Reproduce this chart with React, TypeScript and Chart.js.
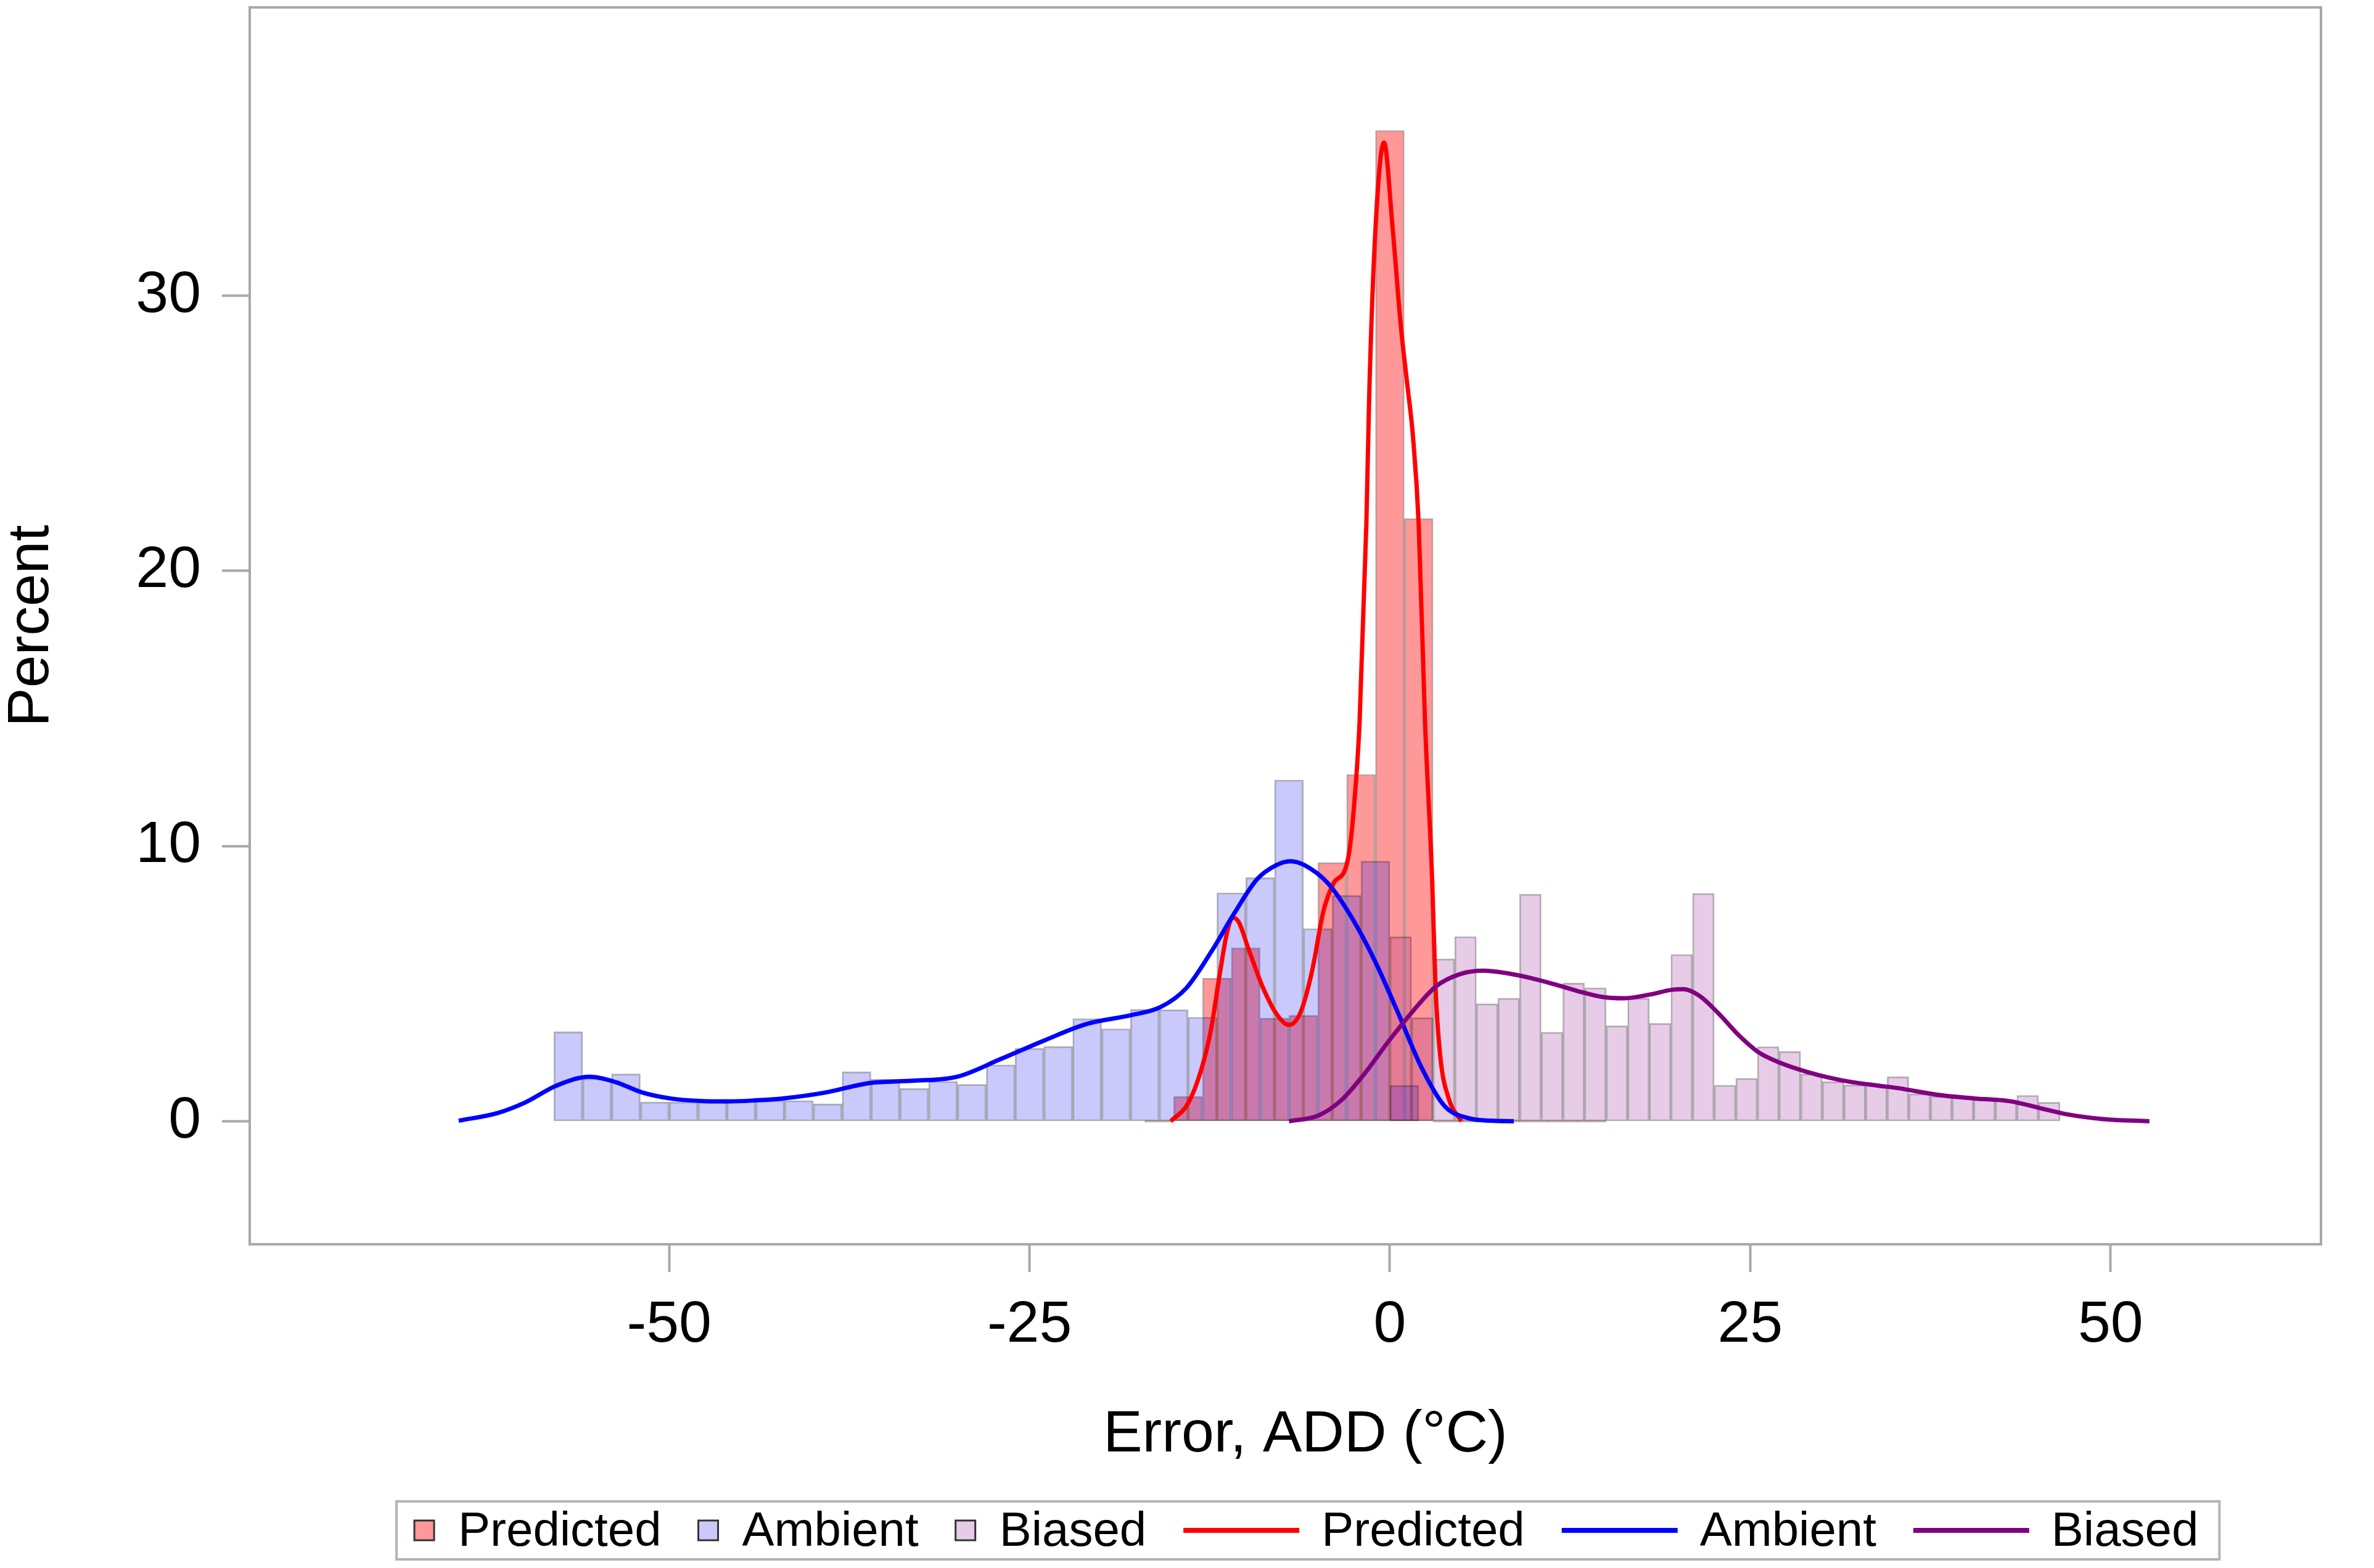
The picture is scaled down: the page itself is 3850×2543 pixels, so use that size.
import React, { useEffect, useRef } from 'react';
import Chart from 'chart.js/auto';

// Histogram bins: midpoints (°C) and percent of observations
const predictedMid = [-16, -14, -12, -10, -8, -6, -4, -2, 0, 2, 4, 6, 8, 10, 12, 14];
const predictedPct = [0, 0.9, 5.2, 6.3, 3.75, 3.85, 9.4, 12.6, 36.0, 21.9, 0, 0, 0, 0, 0, 0];

const ambientMid = [
  -57, -55, -53, -51, -49, -47, -45, -43, -41, -39, -37, -35, -33, -31, -29,
  -27, -25, -23, -21, -19, -17, -15, -13, -11, -9, -7, -5, -3, -1, 1,
];
const ambientPct = [
  3.25, 1.55, 1.72, 0.7, 0.7, 0.72, 0.75, 0.75, 0.75, 0.63, 1.8, 1.53, 1.19, 1.45, 1.34,
  2.05, 2.65, 2.72, 3.73, 3.36, 4.07, 4.05, 3.78, 8.3, 8.85, 12.4, 7.0, 8.2, 9.45, 1.3,
];

const biasedMid = [
  0.75, 2.25, 3.75, 5.25, 6.75, 8.25, 9.75, 11.25, 12.75, 14.25, 15.75, 17.25, 18.75, 20.25,
  21.75, 23.25, 24.75, 26.25, 27.75, 29.25, 30.75, 32.25, 33.75, 35.25, 36.75, 38.25, 39.75,
  41.25, 42.75, 44.25, 45.75,
];
const biasedPct = [
  6.7, 3.76, 5.9, 6.71, 4.27, 4.47, 8.25, 3.23, 5.02, 4.85, 3.47, 4.47, 3.56, 6.06,
  8.28, 1.31, 1.56, 2.71, 2.54, 1.72, 1.44, 1.32, 1.32, 1.62, 1.0, 0.91, 0.85,
  0.8, 0.77, 0.94, 0.69,
];

// bin widths of each histogram
const predictedBin = 2;
const ambientBin = 2;
const biasedBin = 1.5;

// Kernel density curves
const predictedKdeX = [
  -15.2, -14.0, -13.1, -12.4, -11.8, -11.3, -10.9, -10.5, -9.8, -8.8, -7.8, -7.0, -6.2, -5.4,
  -4.6, -3.9, -3.1, -2.8, -2.5, -2.1, -1.63, -1.43, -1.0, -0.41, 0.2, 0.76, 1.18, 1.6, 2.0,
  2.44, 2.93, 3.17, 3.5, 4.07, 4.96,
];
const predictedKdeY = [
  0, 0.65, 1.85, 3.35, 5.35, 6.85, 7.4, 7.25, 6.25, 4.85, 3.85, 3.5, 3.95, 5.45,
  7.65, 8.65, 9.15, 9.85, 11.35, 14.5, 21.7, 26.4, 32.4, 35.56, 32.4, 28.9, 26.9, 24.9, 21.7,
  14.5, 8.85, 4.85, 2.35, 0.85, 0,
];

const ambientKdeX = [
  -64.6, -61.9, -60.0, -57.8, -55.5, -53.7, -51.9, -49.8, -47.9, -45.9, -44.0, -42.1, -39.1,
  -36.1, -33.1, -30.0, -27.0, -24.0, -21.0, -18.0, -15.9, -14.1, -12.4, -10.8, -9.2, -7.9,
  -6.9, -5.9, -4.3, -2.7, -1.06, 0.56, 2.2, 3.8, 5.4, 7.0, 8.6,
];
const ambientKdeY = [
  0.02, 0.3, 0.68, 1.3, 1.62, 1.42, 1.05, 0.82, 0.74, 0.72, 0.76, 0.83, 1.05,
  1.39, 1.47, 1.62, 2.26, 2.93, 3.54, 3.85, 4.15, 4.85, 6.15, 7.55, 8.8, 9.3,
  9.45, 9.3, 8.65, 7.45, 5.85, 3.95, 1.95, 0.55, 0.12, 0.02, 0,
];

const biasedKdeX = [
  -7.0, -5.0, -3.4, -1.8, -0.1, 1.6, 3.2, 4.9, 6.5, 8.1, 9.8, 11.4, 13.1, 14.7, 16.3, 18.0,
  19.6, 20.4, 21.5, 22.8, 24.2, 25.6, 27.2, 28.9, 30.5, 32.1, 33.8, 35.3, 37.9, 40.5, 43.0,
  45.1, 46.9, 49.5, 52.7,
];
const biasedKdeY = [
  0, 0.2, 0.75, 1.7, 2.9, 4.0, 4.9, 5.35, 5.47, 5.38, 5.2, 4.98, 4.72, 4.52, 4.47, 4.6,
  4.78, 4.8, 4.55, 3.92, 3.13, 2.5, 2.1, 1.8, 1.58, 1.42, 1.3, 1.2, 0.97, 0.83, 0.73,
  0.48, 0.26, 0.08, 0,
];

const xTicks = [-50, -25, 0, 25, 50];
const yTicks = [0, 10, 20, 30];

const FONT = '"Liberation Sans", Arial, sans-serif';
const FRAME = '#a8a8a8';
const PRED_FILL = 'rgba(255, 0, 0, 0.4)';
const AMB_FILL = 'rgba(0, 0, 240, 0.21)';
const BIAS_FILL = 'rgba(128, 0, 128, 0.2)';
const BAR_EDGE = 'rgba(0, 0, 0, 0.3)';

const toPoints = (xs: number[], ys: number[]) => xs.map((x, i) => ({ x, y: ys[i] }));

// bars get the pixel width of their bin from the x scale
const binWidthPlugin = {
  id: 'binWidth',
  beforeDatasetsUpdate(chart: any) {
    const x = chart.scales.x;
    chart.data.datasets.forEach((ds: any) => {
      if (ds.binWidth) {
        ds.barThickness = Math.abs(x.getPixelForValue(ds.binWidth) - x.getPixelForValue(0));
      }
    });
  },
};

// plot frame, x title and the legend box underneath
const decorPlugin = {
  id: 'decor',
  afterDatasetsDraw(chart: any) {
    const { ctx, chartArea } = chart;
    ctx.save();
    ctx.strokeStyle = FRAME;
    ctx.lineWidth = 4;
    ctx.strokeRect(chartArea.left, chartArea.top, chartArea.right - chartArea.left, chartArea.bottom - chartArea.top);
    ctx.restore();
  },
  afterDraw(chart: any) {
    const { ctx } = chart;
    ctx.save();
    ctx.fillStyle = '#000';
    ctx.font = `95px ${FONT}`;
    ctx.textAlign = 'center';
    ctx.textBaseline = 'alphabetic';
    ctx.fillText('Error, ADD (°C)', 2117, 2354);

    ctx.font = `78px ${FONT}`;
    ctx.textAlign = 'left';
    const midY = 2482;
    const baseY = 2507;
    let x = 672;
    chart.data.datasets.forEach((ds: any) => {
      if (ds.type === 'line') {
        ctx.strokeStyle = ds.borderColor;
        ctx.lineWidth = 8;
        ctx.beginPath();
        ctx.moveTo(x, midY);
        ctx.lineTo(x + 188, midY);
        ctx.stroke();
        x += 188 + 36;
      } else {
        ctx.fillStyle = ds.backgroundColor;
        ctx.fillRect(x, midY - 16, 32, 32);
        ctx.strokeStyle = '#333';
        ctx.lineWidth = 3;
        ctx.strokeRect(x, midY - 16, 32, 32);
        x += 32 + 39;
      }
      ctx.fillStyle = '#000';
      ctx.fillText(ds.label, x, baseY);
      x += ctx.measureText(ds.label).width + 60;
    });
    ctx.strokeStyle = '#b4b4b4';
    ctx.lineWidth = 4;
    ctx.strokeRect(643, 2435, x - 60 + 34 - 643, 94);
    ctx.restore();
  },
};

const App: React.FC = () => {
  const canvasRef = useRef<HTMLCanvasElement>(null);
  const chartInstance = useRef<Chart | null>(null);

  useEffect(() => {
    if (!canvasRef.current) return;
    if (chartInstance.current) chartInstance.current.destroy();

    const ctx = canvasRef.current.getContext('2d');
    if (!ctx) return;

    const barCommon = {
      type: 'bar' as const,
      borderColor: BAR_EDGE,
      borderWidth: 2,
      borderSkipped: false,
      grouped: false,
    };
    const lineCommon = {
      type: 'line' as const,
      borderWidth: 7,
      pointRadius: 0,
      fill: false,
      cubicInterpolationMode: 'monotone' as const,
    };

    chartInstance.current = new Chart(ctx, {
      type: 'bar',
      data: {
        datasets: [
          { ...barCommon, label: 'Predicted', data: toPoints(predictedMid, predictedPct), binWidth: predictedBin, backgroundColor: PRED_FILL, order: 6, minBarLength: 3 } as any,
          { ...barCommon, label: 'Ambient', data: toPoints(ambientMid, ambientPct), binWidth: ambientBin, backgroundColor: AMB_FILL, order: 5 } as any,
          { ...barCommon, label: 'Biased', data: toPoints(biasedMid, biasedPct), binWidth: biasedBin, backgroundColor: BIAS_FILL, order: 4 } as any,
          { ...lineCommon, label: 'Predicted', data: toPoints(predictedKdeX, predictedKdeY), borderColor: '#ff0000', order: 3 } as any,
          { ...lineCommon, label: 'Ambient', data: toPoints(ambientKdeX, ambientKdeY), borderColor: '#0000ff', order: 2 } as any,
          { ...lineCommon, label: 'Biased', data: toPoints(biasedKdeX, biasedKdeY), borderColor: '#800080', order: 1 } as any,
        ],
      },
      options: {
        animation: false,
        responsive: true,
        maintainAspectRatio: false,
        events: [],
        layout: { padding: { left: 0, top: 12, right: 86, bottom: 0 } },
        plugins: {
          legend: { display: false },
          tooltip: { enabled: false },
        },
        scales: {
          x: {
            type: 'linear',
            min: -79.1,
            max: 64.6,
            offset: false,
            afterBuildTicks: (axis: any) => {
              axis.ticks = xTicks.map((value) => ({ value }));
            },
            afterFit: (axis: any) => {
              axis.height = 525;
              axis.paddingLeft = 0;
              axis.paddingRight = 0;
            },
            grid: { offset: false, drawOnChartArea: false, drawTicks: true, tickLength: 45, tickColor: FRAME, tickWidth: 4 },
            border: { display: false },
            ticks: {
              autoSkip: false,
              maxRotation: 0,
              minRotation: 0,
              padding: 30,
              color: '#000',
              font: { family: FONT, size: 95 },
              callback: (v: any) => String(v),
            },
          },
          y: {
            type: 'linear',
            min: -4.47,
            max: 40.47,
            afterBuildTicks: (axis: any) => {
              axis.ticks = yTicks.map((value) => ({ value }));
            },
            afterFit: (axis: any) => {
              axis.width = 405;
              axis.paddingTop = 0;
              axis.paddingBottom = 0;
            },
            grid: { offset: false, drawOnChartArea: false, drawTicks: true, tickLength: 45, tickColor: FRAME, tickWidth: 4 },
            border: { display: false },
            ticks: {
              padding: 34,
              color: '#000',
              font: { family: FONT, size: 95 },
              callback: (v: any) => String(v),
            },
            title: {
              display: true,
              text: 'Percent',
              color: '#000',
              font: { family: FONT, size: 95, lineHeight: 1.1 },
              padding: { top: 0, bottom: 0 },
            },
          },
        },
      },
      plugins: [binWidthPlugin, decorPlugin],
    });

    return () => {
      if (chartInstance.current) {
        chartInstance.current.destroy();
        chartInstance.current = null;
      }
    };
  }, []);

  return (
    <div style={{ position: 'fixed', left: 0, top: 0, width: '100vw', height: '100vh', background: '#fff' }}>
      <canvas ref={canvasRef}></canvas>
    </div>
  );
};

export default App;
